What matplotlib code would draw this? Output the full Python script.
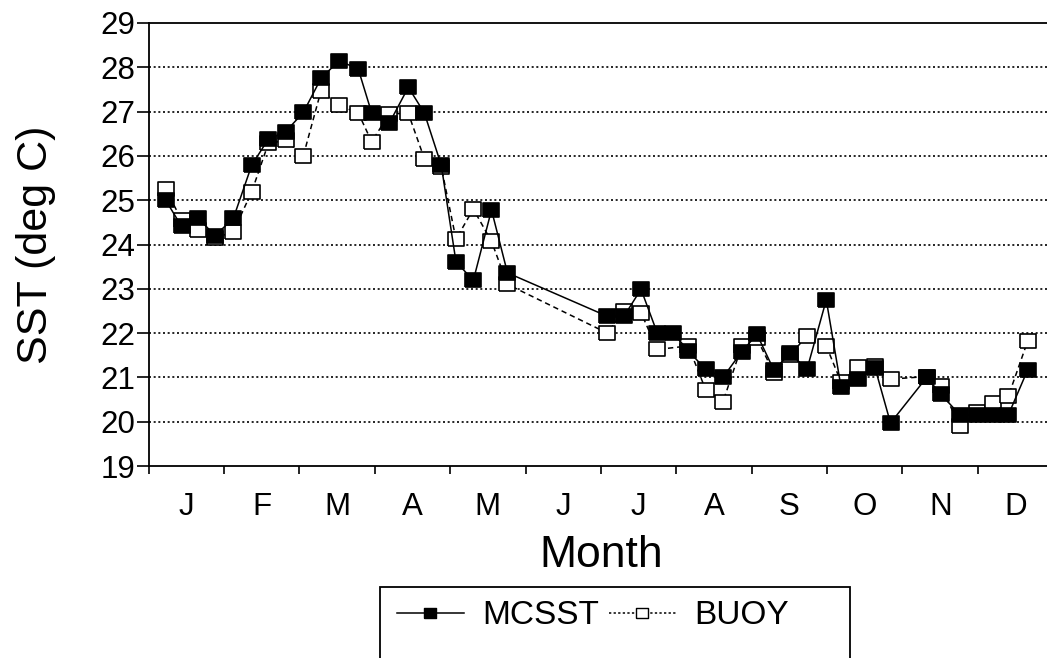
import matplotlib
matplotlib.use('Agg')
import matplotlib.pyplot as plt
from matplotlib.lines import Line2D
from matplotlib.patches import Rectangle

plt.rcParams['font.family'] = ['Liberation Sans', 'DejaVu Sans']

# ---------------- data ----------------
month_labels = ['J', 'F', 'M', 'A', 'M', 'J', 'J', 'A', 'S', 'O', 'N', 'D']
y_ticks = [19, 20, 21, 22, 23, 24, 25, 26, 27, 28, 29]

# time as fractional month since 1 Jan (weekly samples)
mcsst_month = [0.228, 0.438, 0.663, 0.882, 1.125, 1.369, 1.589, 1.820, 2.053, 2.288,
               2.527, 2.782, 2.960, 3.194, 3.446, 3.658, 3.883, 4.078, 4.308, 4.549,
               4.761, 6.085, 6.306, 6.532, 6.748, 6.960, 7.159, 7.390, 7.619, 7.867,
               8.070, 8.296, 8.508, 8.733, 8.989, 9.184, 9.414, 9.635, 9.841, 10.321,
               10.504, 10.763, 10.984, 11.196, 11.403, 11.660]
mcsst_sst = [25.00, 24.41, 24.59, 24.20, 24.59, 25.79, 26.38, 26.55, 26.98, 27.75,
             28.15, 27.96, 26.97, 26.74, 27.55, 26.97, 25.79, 23.61, 23.19, 24.78,
             23.36, 22.38, 22.38, 22.99, 22.00, 22.00, 21.60, 21.18, 21.00, 21.58,
             21.97, 21.16, 21.55, 21.18, 22.75, 20.79, 20.96, 21.22, 19.97, 21.00,
             20.63, 20.15, 20.15, 20.15, 20.15, 21.17]

buoy_month = [0.228, 0.438, 0.663, 0.882, 1.125, 1.369, 1.589, 1.820, 2.053, 2.288,
              2.527, 2.782, 2.960, 3.194, 3.446, 3.658, 3.883, 4.078, 4.308, 4.549,
              4.761, 6.085, 6.306, 6.532, 6.748, 7.159, 7.390, 7.619, 7.867,
              8.070, 8.296, 8.508, 8.733, 8.989, 9.184, 9.414, 9.635, 9.841, 10.321,
              10.504, 10.763, 10.984, 11.196, 11.403, 11.660]
buoy_sst = [25.26, 24.55, 24.33, 24.14, 24.29, 25.19, 26.28, 26.35, 26.00, 27.47,
            27.14, 26.97, 26.32, 26.95, 26.96, 25.94, 25.75, 24.12, 24.80, 24.07,
            23.10, 22.00, 22.50, 22.46, 21.63, 21.71, 20.72, 20.45, 21.70,
            21.88, 21.09, 21.50, 21.94, 21.71, 20.90, 21.23, 21.25, 20.96, 21.02,
            20.81, 19.90, 20.23, 20.43, 20.57, 21.82]

# ---------------- figure ----------------
W, H = 1047, 658
fig = plt.figure(figsize=(W / 100, H / 100), dpi=100)
ax = fig.add_axes([148.5 / W, 1 - 466 / H, (1053.3 - 148.5) / W, (466 - 23) / H])
ax.set_xlim(0, 12)
ax.set_ylim(19, 29)

for v in y_ticks[1:-1]:
    ax.axhline(v, color='k', lw=1.2, ls=(0, (1.2, 1.6)), zorder=1)

box = [(-1, -0.79), (1, -0.79), (1, 0.79), (-1, 0.79), (-1, -0.79)]

ax.plot(buoy_month, buoy_sst, color='k', lw=1.1, ls=(0, (3.5, 2.5)),
        marker=box, ms=12, mfc='white', mec='k', mew=1.2, zorder=2)
ax.plot(mcsst_month, mcsst_sst, color='k', lw=1.1, ls='-',
        marker=box, ms=12, mfc='k', mec='k', mew=1.2, zorder=3)

for s in ['left', 'bottom', 'top']:
    ax.spines[s].set_linewidth(1.3)
ax.spines['right'].set_visible(False)

ax.set_xticks(range(0, 13))
ax.set_xticklabels([])
ax.tick_params(axis='x', which='major', length=6, width=1.2, direction='out')
ax.set_xticks([i + 0.5 for i in range(12)], minor=True)
ax.set_xticklabels(month_labels, minor=True, fontsize=22.5)
ax.tick_params(axis='x', which='minor', length=0, pad=19)

ax.set_yticks(y_ticks)
ax.set_yticklabels([str(v) for v in y_ticks], fontsize=22.5)
ax.tick_params(axis='y', length=8.6, width=1.2, pad=1, direction='out')

fig.text(36 / W, 1 - 245 / H, 'SST (deg C)', rotation=90, ha='center',
         va='center', fontsize=31)
fig.text(601 / W, 1 - 567 / H, 'Month', ha='center', va='baseline', fontsize=32)

handles = [Line2D([], [], color='k', lw=1.1, marker=box, ms=9, mfc='k', mec='k'),
           Line2D([], [], color='k', lw=1.1, ls=(0, (1.5, 1.5)), marker=box, ms=9,
                  mfc='white', mec='k')]
fig.legend(handles, ['MCSST', 'BUOY'], ncol=2, loc='center left',
           bbox_to_anchor=(397 / W, 1 - 616 / H), frameon=False, fontsize=24,
           handlelength=2.0, handletextpad=0.55, columnspacing=0.3,
           borderpad=0, borderaxespad=0)
fig.patches.append(Rectangle((380 / W, -0.1), (850 - 380) / W, (658 - 587) / H + 0.1,
                             transform=fig.transFigure, fill=False, ec='k', lw=1.3))

fig.savefig('out.png', dpi=100)
